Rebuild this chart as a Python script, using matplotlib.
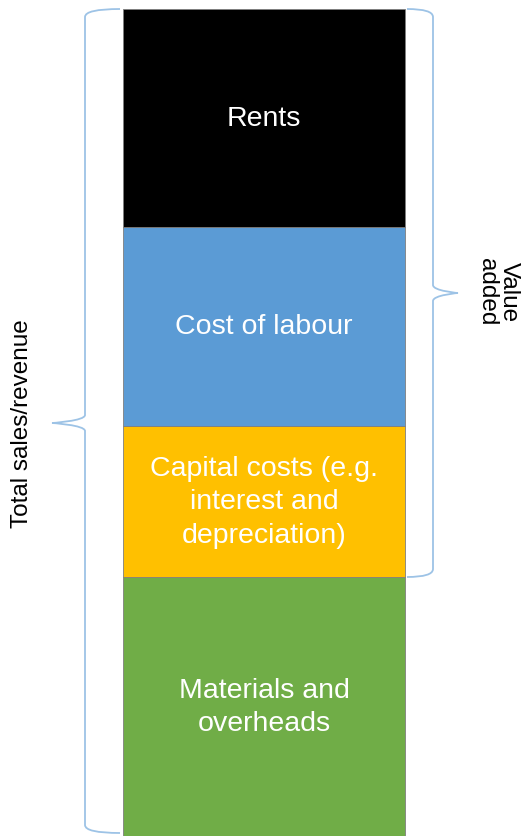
import matplotlib
matplotlib.use('Agg')
import matplotlib.pyplot as plt
from matplotlib.path import Path
from matplotlib.patches import PathPatch

plt.rcParams['font.family'] = ['Liberation Sans', 'DejaVu Sans']

# Segments of the bar, bottom to top
etiquetas = ['Materials and\noverheads', 'Capital costs (e.g.\ninterest and\ndepreciation)',
             'Cost of labour', 'Rents']
valores = [259, 151, 199, 218]
colores = ['#70AD47', '#FFC000', '#5B9BD5', '#000000']

texto_izq = 'Total sales/revenue'
texto_der = 'Value\nadded'
color_llave = '#9DC3E6'

fig = plt.figure(figsize=(5.32, 8.37), dpi=100)
ax = fig.add_axes([0, 0, 1, 1])
ax.set_xlim(0, 532)
ax.set_ylim(0, 837)
ax.axis('off')

x_barra = 264
ancho = 282

base = 0
limites = []
for etiqueta, valor, color in zip(etiquetas, valores, colores):
    ax.bar(x_barra, valor, width=ancho, bottom=base, color=color,
           edgecolor='#7f7f7f', linewidth=0.6)
    ax.text(x_barra, base + valor / 2, etiqueta, color='white', fontsize=20.5,
            ha='center', va='center', linespacing=1.38)
    limites.append((base, base + valor))
    base += valor


def llave(ax, x_fin, x_linea, x_punta, y0, y1, y_punta):
    # dibuja una llave vertical entre y0 e y1 con la punta en y_punta
    r = 8
    v = [
        (x_fin, y1), (x_linea, y1), (x_linea, y1 - r),
        (x_linea, y_punta + r),
        (x_linea, y_punta + 2), (x_punta, y_punta), (x_punta, y_punta),
        (x_punta, y_punta), (x_linea, y_punta - 2), (x_linea, y_punta - r),
        (x_linea, y0 + r),
        (x_linea, y0), (x_fin, y0),
    ]
    c = [Path.MOVETO, Path.CURVE3, Path.CURVE3,
         Path.LINETO,
         Path.CURVE4, Path.CURVE4, Path.CURVE4,
         Path.CURVE4, Path.CURVE4, Path.CURVE4,
         Path.LINETO,
         Path.CURVE3, Path.CURVE3]
    ax.add_patch(PathPatch(Path(v, c), fill=False, edgecolor=color_llave, linewidth=1.3))


izq = x_barra - ancho / 2
der = x_barra + ancho / 2
total = sum(valores)

# llave izquierda: todo el ingreso
llave(ax, izq - 3, izq - 38, izq - 71, 3, total, 413)
ax.text(22, 413, texto_izq, rotation=90, fontsize=17.5, ha='center', va='center')

# llave derecha: valor agregado (capital + trabajo + rentas)
y_va0 = limites[1][0]
llave(ax, der + 2, der + 28, der + 53, y_va0, total, 543)
ax.text(498, 545, texto_der, rotation=270, fontsize=17.5, ha='center', va='center',
        linespacing=1.0)

fig.savefig('out.png', dpi=100)
